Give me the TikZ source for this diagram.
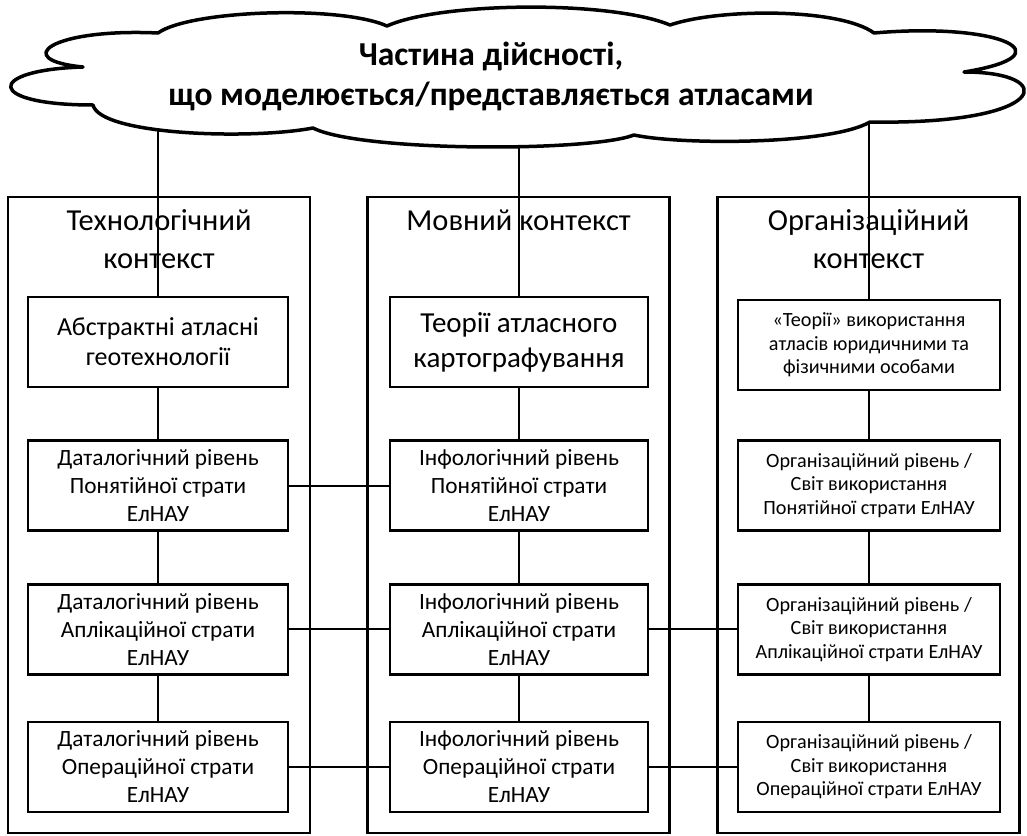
\documentclass[tikz,border=0pt]{standalone}
\usepackage{fontspec}
\setmainfont{Carlito}
\usetikzlibrary{positioning,backgrounds}
\tikzset{
  kontekst/.style={draw,line width=2.6pt,minimum width=302pt,minimum height=636pt,inner sep=0pt},
  nazva/.style={align=center,inner sep=0pt,font=\fontsize{30.5}{38}\selectfont},
  teorija/.style={draw,line width=2.6pt,fill=white,minimum width=260pt,minimum height=90pt,align=center,inner sep=2pt},
  riven/.style={teorija,font=\fontsize{23.3}{28}\selectfont},
  rivenO/.style={teorija,minimum width=262pt,font=\fontsize{20.2}{23.5}\selectfont},
  zvjazok/.style={line width=2.2pt},
}

\begin{document}
\begin{tikzpicture}[x=1pt,y=-1pt]
  \useasboundingbox (0,0) rectangle (1027,835);
  % хмара
  \draw[line width=3.5pt,fill=white,line join=round]
    (158,33) .. controls (190,10) and (340,5) .. (387,26)
    .. controls (440,2) and (610,0) .. (670,25)
    .. controls (720,8) and (840,8) .. (874,33)
    .. controls (1000,22) and (1070,55) .. (964,72)
    .. controls (1060,72) and (1050,125) .. (870,122)
    .. controls (830,145) and (680,145) .. (634,135)
    .. controls (590,152) and (360,152) .. (313,128)
    .. controls (250,140) and (100,135) .. (93,105)
    .. controls (-15,105) and (-15,70) .. (83,67)
    .. controls (10,60) and (50,28) .. cycle;
  \coordinate (dijsnist) at (516,80);
  \node[align=center,font=\bfseries\fontsize{33.5}{40}\selectfont] (napys) at (491,76)
        {Частина дійсності,\\що моделюється/представляється атласами};
  % три контексти
  \node[kontekst] (kT) at (159,515) {}; \node[kontekst] (kM) at (518.5,515) {};
  \node[kontekst] (kO) at (868.5,515) {};
  \node[nazva,below=14pt] (nT) at (kT.north) {Технологічний\\контекст};
  \node[nazva,below=14pt] (nM) at (kM.north) {Мовний контекст};
  \node[nazva,below=14pt] (nO) at (kO.north) {Організаційний\\контекст};
  % технологічний
  \node[teorija,font=\fontsize{26}{30}\selectfont] (t1) at (158,342) {Абстрактні атласні\\геотехнології};
  \node[riven] (t2) [below=51pt of t1] {Даталогічний рівень\\Понятійної страти\\ЕлНАУ};
  \node[riven] (t3) [below=51pt of t2] {Даталогічний рівень\\Аплікаційної страти\\ЕлНАУ};
  \node[riven] (t4) [below=45pt of t3] {Даталогічний рівень\\Операційної страти\\ЕлНАУ};
  % мовний
  \node[teorija,minimum width=258pt,font=\fontsize{29}{35}\selectfont] (m1) at (519,342) {Теорії атласного\\картографування};
  \node[riven,minimum width=258pt] (m2) [below=51pt of m1] {Інфологічний рівень\\Понятійної страти\\ЕлНАУ};
  \node[riven,minimum width=258pt] (m3) [below=51pt of m2] {Інфологічний рівень\\Аплікаційної страти\\ЕлНАУ};
  \node[riven,minimum width=258pt] (m4) [below=45pt of m3] {Інфологічний рівень\\Операційної страти\\ЕлНАУ};
  % організаційний
  \node[rivenO] (o1) at (869,345) {«Теорії» використання\\атласів юридичними та\\фізичними особами};
  \node[rivenO] (o2) [below=48pt of o1] {Організаційний рівень /\\Світ використання\\Понятійної страти ЕлНАУ};
  \node[rivenO] (o3) [below=51pt of o2] {Організаційний рівень /\\Світ використання\\Аплікаційної страти ЕлНАУ};
  \node[rivenO] (o4) [below=45pt of o3] {Організаційний рівень /\\Світ використання\\Операційної страти ЕлНАУ};
  % зв'язки
  \begin{scope}[on background layer]
    \draw[zvjazok] (t1.north) -- (t1.north |- dijsnist);
    \draw[zvjazok] (m1.north) -- (m1.north |- dijsnist);
    \draw[zvjazok] (o1.north) -- (o1.north |- dijsnist);
    \draw[zvjazok] (t1) -- (t2) -- (t3) -- (t4);
    \draw[zvjazok] (m1) -- (m2) -- (m3) -- (m4);
    \draw[zvjazok] (o1) -- (o2) -- (o3) -- (o4);
    \draw[zvjazok] (t2) -- (m2);
    \draw[zvjazok] (t3) -- (m3) -- (o3);
    \draw[zvjazok] (t4) -- (m4) -- (o4);
  \end{scope}
\end{tikzpicture}
\end{document}
